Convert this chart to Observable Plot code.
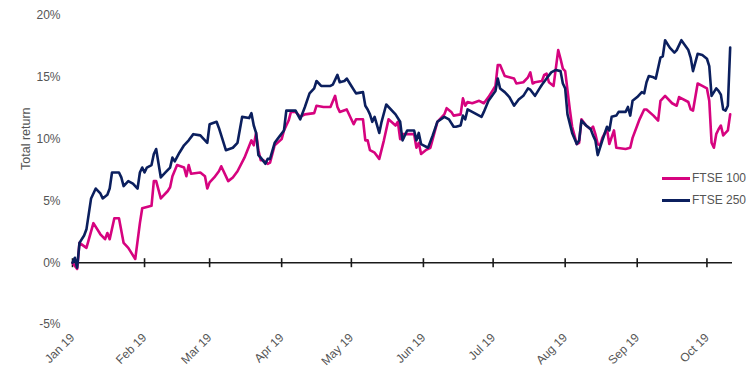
<!DOCTYPE html>
<html><head><meta charset="utf-8">
<script src="https://cdn.jsdelivr.net/npm/d3@7"></script>
<script src="https://cdn.jsdelivr.net/npm/@observablehq/plot@0.6"></script>
<style>
body{margin:0;background:#fff;font-family:"Liberation Sans",Arial,sans-serif;}
#wrap{position:relative;width:756px;height:378px;overflow:hidden;}
.legend{position:absolute;left:662px;top:167px;font-size:12px;color:#555;}
.item{display:flex;align-items:center;height:22px;white-space:nowrap;}
.sw{width:28px;height:3px;margin-right:2px;}
</style></head><body><div id="wrap"></div>
<script>
const seriesNames = ["FTSE 100", "FTSE 250"];
const seriesColors = ["#d6037f", "#0b1f5e"];

const ftse100Dates = ["01-01","01-03","01-04","01-07","01-10","01-13","01-15","01-16","01-17","01-19","01-21","01-23","01-25","01-28","01-30","01-31",
"02-04","02-05","02-06","02-08","02-11","02-12","02-13","02-15","02-18","02-19","02-20","02-21","02-25","02-27","02-28",
"03-01","03-03","03-05","03-06","03-09","03-11","03-13","03-16","03-19","03-20","03-21","03-22","03-23","03-24","03-26","03-27","03-29",
"04-01","04-02","04-04","04-05","04-07","04-09","04-11","04-15","04-16","04-19","04-22","04-24","04-25","04-26","04-29",
"05-02","05-03","05-06","05-07","05-08","05-09","05-11","05-13","05-15","05-17","05-20","05-21","05-22","05-23","05-28","05-29","05-30","05-31",
"06-02","06-04","06-05","06-07","06-10","06-11","06-13","06-14","06-17","06-18","06-19","06-20","06-22","06-25","06-27","06-29",
"07-02","07-03","07-04","07-06","07-08","07-10","07-11","07-14","07-16","07-17","07-18","07-19","07-22","07-23","07-24","07-25","07-27","07-29","07-30","07-31",
"08-01","08-03","08-04","08-06","08-07","08-08","08-10","08-12","08-13","08-14","08-15","08-16","08-17","08-19","08-20","08-22","08-23","08-27","08-29","08-30",
"09-01","09-02","09-04","09-05","09-08","09-10","09-11","09-13","09-16","09-18","09-19","09-23","09-24","09-25","09-27","09-29",
"10-01","10-02","10-03","10-04","10-05","10-06","10-07","10-08","10-10","10-11"];
const ftse100Values = [0.0,-0.5,1.6,1.2,3.2,2.3,1.9,2.4,1.9,3.6,3.6,1.6,1.2,0.3,3.2,4.4,
4.6,6.6,6.6,5.2,5.8,6.1,7.0,7.9,7.7,7.0,7.9,7.2,7.3,7.0,6.0,
6.5,6.9,7.4,7.8,6.6,6.9,7.4,8.5,9.9,9.5,10.5,9.1,8.3,8.3,8.0,8.1,9.5,
10.0,10.7,11.5,12.2,12.2,11.8,12.0,12.1,12.7,12.6,12.6,13.5,12.6,12.2,12.4,
11.2,11.6,11.6,9.9,9.9,9.1,8.9,8.4,9.9,11.6,11.1,11.4,10.0,10.4,10.4,9.3,9.7,8.8,
9.1,9.3,10.0,11.4,12.0,12.5,12.2,11.9,12.0,13.3,12.7,13.0,12.9,13.1,12.9,13.4,
14.3,16.0,16.0,15.1,15.0,14.9,14.5,14.6,15.0,15.4,14.5,14.6,14.7,15.2,15.3,14.6,14.3,17.2,16.5,15.7,
15.5,12.4,11.0,9.6,9.7,11.6,11.1,10.8,11.0,10.4,9.6,9.5,10.1,10.8,9.6,10.7,9.3,9.2,9.3,10.1,
11.1,11.6,12.4,12.4,11.9,11.5,13.1,13.5,12.9,12.7,13.4,13.0,12.4,12.3,14.5,14.3,
14.1,13.1,9.7,9.3,10.4,10.8,11.1,10.3,10.7,12.0];

const ftse250Dates = ["01-01","01-02","01-03","01-04","01-06","01-07","01-09","01-11","01-13","01-14","01-16","01-17","01-18","01-21","01-22","01-23","01-25","01-27","01-29","01-30","01-31",
"02-01","02-02","02-04","02-05","02-06","02-08","02-10","02-12","02-13","02-14","02-16","02-18","02-20","02-22","02-25","02-27","02-28",
"03-01","03-04","03-05","03-08","03-11","03-13","03-15","03-18","03-19","03-20","03-21","03-22","03-23","03-25","03-26","03-27","03-29","03-31",
"04-02","04-03","04-05","04-07","04-09","04-11","04-13","04-15","04-16","04-18","04-22","04-23","04-25","04-26","04-28","04-29",
"05-01","05-03","05-06","05-07","05-08","05-09","05-10","05-11","05-13","05-14","05-16","05-20","05-22","05-23","05-25","05-28","05-29","05-30","05-31",
"06-01","06-03","06-05","06-07","06-10","06-12","06-14","06-15","06-17","06-18","06-19","06-20","06-22","06-26","06-27","06-29",
"07-02","07-03","07-04","07-06","07-08","07-10","07-12","07-14","07-16","07-17","07-19","07-21","07-22","07-24","07-26","07-28","07-30","07-31",
"08-01","08-02","08-04","08-06","08-07","08-08","08-10","08-12","08-13","08-14","08-15","08-17","08-19","08-20","08-21","08-23","08-24","08-27","08-28","08-29","08-30",
"09-01","09-03","09-04","09-05","09-06","09-08","09-09","09-11","09-12","09-13","09-15","09-17","09-18","09-20","09-23","09-24","09-25","09-27","09-29",
"10-01","10-02","10-03","10-05","10-06","10-07","10-08","10-09","10-10","10-11"];
const ftse250Values = [0.0,0.4,-0.4,1.6,2.2,2.7,5.2,6.0,5.6,5.2,5.5,6.0,7.3,7.3,6.9,6.2,6.6,6.4,6.0,7.3,7.7,
7.3,7.7,7.9,8.8,9.2,6.9,7.3,7.7,8.5,8.2,8.9,9.5,9.9,10.4,10.3,9.9,9.7,
11.2,11.4,10.9,9.1,9.3,9.7,11.8,11.7,12.1,11.1,10.5,8.7,8.5,8.0,8.4,8.4,9.7,10.2,
10.7,12.3,12.3,12.3,11.6,12.6,13.7,14.1,14.7,14.3,14.3,14.4,15.2,14.6,14.7,14.9,
14.3,13.7,13.8,12.7,12.4,12.0,11.4,11.8,10.5,11.4,12.8,12.0,11.4,9.9,10.7,10.7,9.9,10.5,9.6,
9.5,9.3,10.3,11.4,11.8,11.6,11.0,11.0,11.1,11.9,11.6,12.4,12.2,11.8,12.2,13.1,
13.9,14.9,14.1,13.8,13.4,12.7,13.2,13.5,14.1,14.0,13.5,14.1,14.4,14.9,15.4,15.6,15.5,14.5,
14.1,12.0,10.5,9.6,9.9,11.5,11.1,10.8,10.3,9.9,8.7,9.9,11.0,10.7,11.8,11.9,12.2,12.2,12.6,11.9,13.1,
13.4,13.8,13.7,14.6,15.1,15.0,14.9,16.6,16.7,18.0,17.4,17.0,17.2,18.0,17.2,16.6,15.5,16.9,16.8,
16.5,15.9,13.5,14.1,13.9,13.6,12.4,12.3,12.7,17.4];

const monthStarts = ["2019-01-01","2019-02-01","2019-03-01","2019-04-01","2019-05-01","2019-06-01","2019-07-01","2019-08-01","2019-09-01","2019-10-01"];
const monthLabels = ["Jan 19","Feb 19","Mar 19","Apr 19","May 19","Jun 19","Jul 19","Aug 19","Sep 19","Oct 19"];
const yTicks = [-5, 0, 5, 10, 15, 20];
const xDomain = ["2019-01-01", "2019-10-12"];
const yLabel = "Total return";

const toRows = (dates, values, name) => dates.map((d, i) => ({date: new Date("2019-" + d + "T00:00:00Z"), value: values[i], series: name}));
const rows100 = toRows(ftse100Dates, ftse100Values, seriesNames[0]);
const rows250 = toRows(ftse250Dates, ftse250Values, seriesNames[1]);
const months = monthStarts.map(d => new Date(d + "T00:00:00Z"));

const tickSymbol = {draw(ctx, size) { const h = Math.sqrt(size / Math.PI); ctx.moveTo(0, -h); ctx.lineTo(0, h); }};

const chart = Plot.plot({
  width: 756, height: 378,
  marginLeft: 72, marginRight: 24, marginTop: 15, marginBottom: 54,
  style: {fontFamily: "'Liberation Sans', Arial, sans-serif", fontSize: "12px", color: "#555", background: "#fff", overflow: "visible"},
  x: {type: "utc", domain: xDomain.map(d => new Date(d + "T00:00:00Z")), label: null},
  y: {domain: [yTicks[0], yTicks[yTicks.length - 1]], label: null},
  marks: [
    Plot.axisY({ticks: yTicks, tickFormat: d => d + "%", tickSize: 0, tickPadding: 12, label: null}),
    Plot.axisX({ticks: months, tickFormat: d => monthLabels[months.findIndex(m => +m === +d)], tickRotate: -45, tickSize: 0, tickPadding: 11, label: null}),
    Plot.text([yLabel], {frameAnchor: "left", text: d => d, rotate: -90, dx: -47, fill: "#555", fontSize: 12.5}),
    Plot.ruleY([0], {stroke: "#1a1a1a", strokeWidth: 1.6}),
    Plot.dot(months, {x: d => d, y: 0, symbol: tickSymbol, r: 4.5, stroke: "#1a1a1a", strokeWidth: 1.6, fill: "none"}),
    Plot.lineY(rows100, {x: "date", y: "value", stroke: seriesColors[0], strokeWidth: 2.6}),
    Plot.lineY(rows250, {x: "date", y: "value", stroke: seriesColors[1], strokeWidth: 2.6})
  ]
});
const wrap = document.getElementById("wrap");
wrap.appendChild(chart);
const legend = document.createElement("div");
legend.className = "legend";
seriesNames.forEach((n, i) => {
  const item = document.createElement("div");
  item.className = "item";
  item.innerHTML = `<span class="sw" style="background:${seriesColors[i]}"></span><span>${n}</span>`;
  legend.appendChild(item);
});
wrap.appendChild(legend);
</script></body></html>
